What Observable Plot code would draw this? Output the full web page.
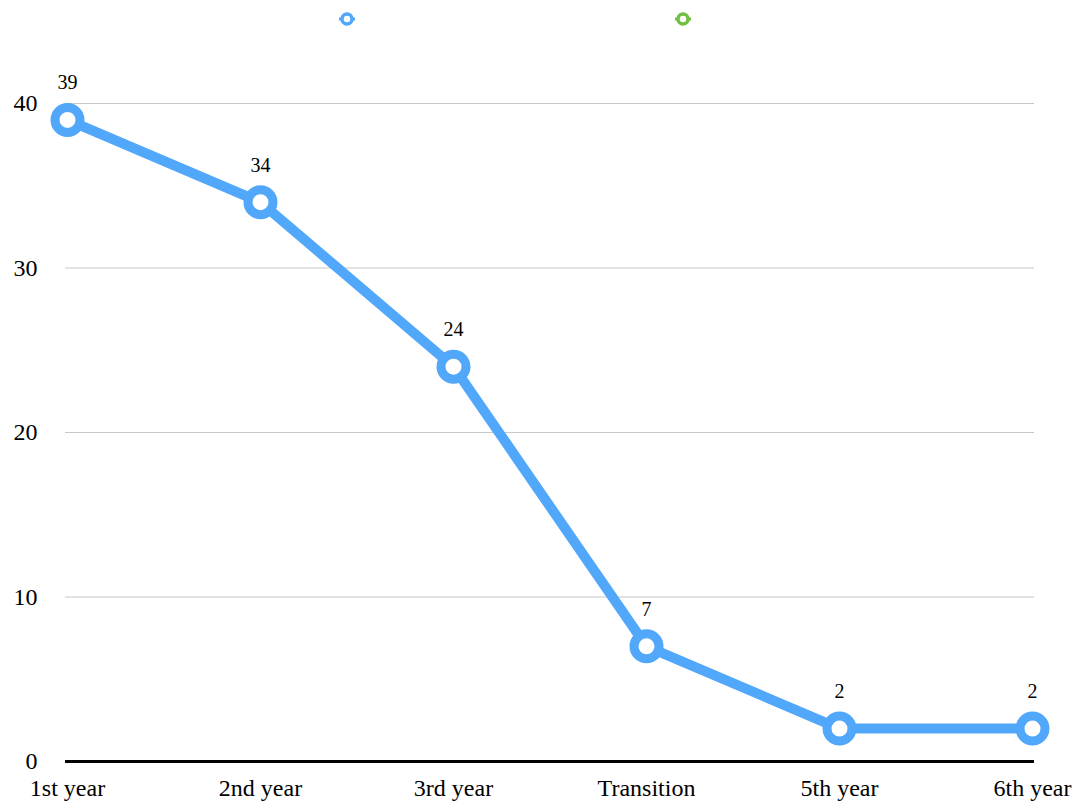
<!DOCTYPE html>
<html>
<head>
<meta charset="utf-8">
<script src="https://cdn.jsdelivr.net/npm/d3@7"></script>
<script src="https://cdn.jsdelivr.net/npm/@observablehq/plot@0.6"></script>
<style>
  html, body { margin: 0; padding: 0; background: #fff; }
  body { width: 1086px; font-family: "Liberation Serif", "DejaVu Serif", serif; }
  #legend { position: relative; height: 38px; width: 1086px; }
  #legend svg { position: absolute; top: 0; }
  #chart svg { display: block; }
</style>
</head>
<body>
<div id="legend"></div>
<div id="chart"></div>
<script>
const categories = ["1st year", "2nd year", "3rd year", "Transition", "5th year", "6th year"];
const values = [39, 34, 24, 7, 2, 2];
const seriesNames = ["", ""];
const seriesColors = ["#51A7F9", "#70BF41"];
const yTicks = [0, 10, 20, 30, 40];

const data = categories.map((c, i) => ({category: c, value: values[i]}));
const blue = seriesColors[0];

// legend (markers only, as in the reference)
const legendX = [347, 683];
const legend = d3.select("#legend");
seriesNames.forEach((name, i) => {
  const svg = legend.append("svg")
    .attr("width", 30).attr("height", 38)
    .style("left", (legendX[i] - 15) + "px");
  svg.append("line").attr("x1", 7).attr("x2", 23).attr("y1", 19).attr("y2", 19)
    .attr("stroke", seriesColors[i]).attr("stroke-width", 3);
  svg.append("circle").attr("cx", 15).attr("cy", 19).attr("r", 5)
    .attr("fill", "#fff").attr("stroke", seriesColors[i]).attr("stroke-width", 3.5);
  if (name) svg.append("text").text(name);
});

const chart = Plot.plot({
  width: 1086,
  height: 767,
  marginLeft: 65,
  marginRight: 52,
  marginTop: 65,
  marginBottom: 44,
  style: {fontFamily: "Liberation Serif, DejaVu Serif, serif", background: "#fff", color: "#000"},
  x: {type: "point", domain: categories, padding: 0},
  y: {domain: [0, 40]},
  marks: [
    Plot.gridY(yTicks.filter(d => d > 0), {stroke: "#c8c8c8", strokeOpacity: 1, strokeWidth: 1}),
    Plot.axisY({ticks: yTicks, tickSize: 0, tickPadding: 28, fontSize: 24, label: null}),
    Plot.axisX({tickSize: 0, tickPadding: 17, fontSize: 24, label: null}),
    Plot.ruleY([0], {stroke: "#000", strokeWidth: 3}),
    Plot.line(data, {x: "category", y: "value", stroke: blue, strokeWidth: 10, strokeLinejoin: "round"}),
    Plot.dot(data, {x: "category", y: "value", r: 12.5, fill: "#fff", stroke: blue, strokeWidth: 9}),
    Plot.text(data, {x: "category", y: "value", text: d => String(d.value), dy: -37, fontSize: 20, fill: "#000"})
  ]
});
document.getElementById("chart").appendChild(chart);
</script>
</body>
</html>
